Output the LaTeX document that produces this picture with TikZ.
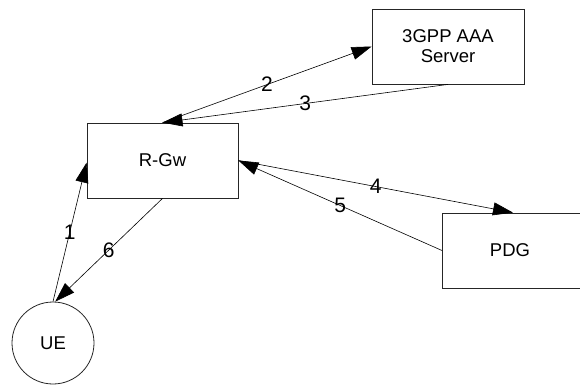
\documentclass[tikz,border=0pt]{standalone}
\usepackage{fontspec}
\setmainfont{Liberation Sans}
\usetikzlibrary{arrows.meta,calc}
\tikzset{
  box/.style={draw=black!85, line width=0.8pt, rectangle, inner sep=0pt, align=center,
    font=\fontsize{18.5}{20}\selectfont},
  conn/.style={line width=0.6pt, -{Triangle[length=20pt,width=13pt]}},
  lbl/.style={font=\fontsize{21}{22}\selectfont, inner sep=0pt}
}
\begin{document}
\begin{tikzpicture}[x=1pt,y=-1pt]
\useasboundingbox (0,0) rectangle (580,385);
\node[box, minimum width=151pt, minimum height=75pt] (rgw) at (162.5,160.5) {R-Gw};
\node[box, minimum width=152pt, minimum height=75pt] (aaa) at (448,46.5) {3GPP AAA\\Server};
\node[box, minimum width=150pt, minimum height=75pt, anchor=west] (pdg) at (442,250.5) {};
\node[font=\fontsize{18.5}{20}\selectfont] (pdgt) at (510,250.5) {PDG};
\node[draw=black!85, line width=0.8pt, circle, minimum size=82pt, inner sep=0pt,
  font=\fontsize{18.5}{20}\selectfont] (ue) at (53,343) {UE};
\coordinate (rgwL) at ($(rgw.north west)+(0,40)$);
\coordinate (pdgN) at ($(pdg.north west)+(71,0)$);
\draw[conn] (ue.north) -- node[lbl]{1} (rgwL);
\draw[conn] (rgw.south) -- node[lbl]{6} (ue.87);
\draw[conn] (rgw.north) -- node[lbl]{2} (aaa.west);
\draw[conn] (aaa.south) -- node[lbl]{3} (rgw.north);
\draw[conn] (rgw.east) -- node[lbl]{4} (pdgN);
\draw[conn] (pdg.west) -- node[lbl]{5} (rgw.east);
\end{tikzpicture}
\end{document}
